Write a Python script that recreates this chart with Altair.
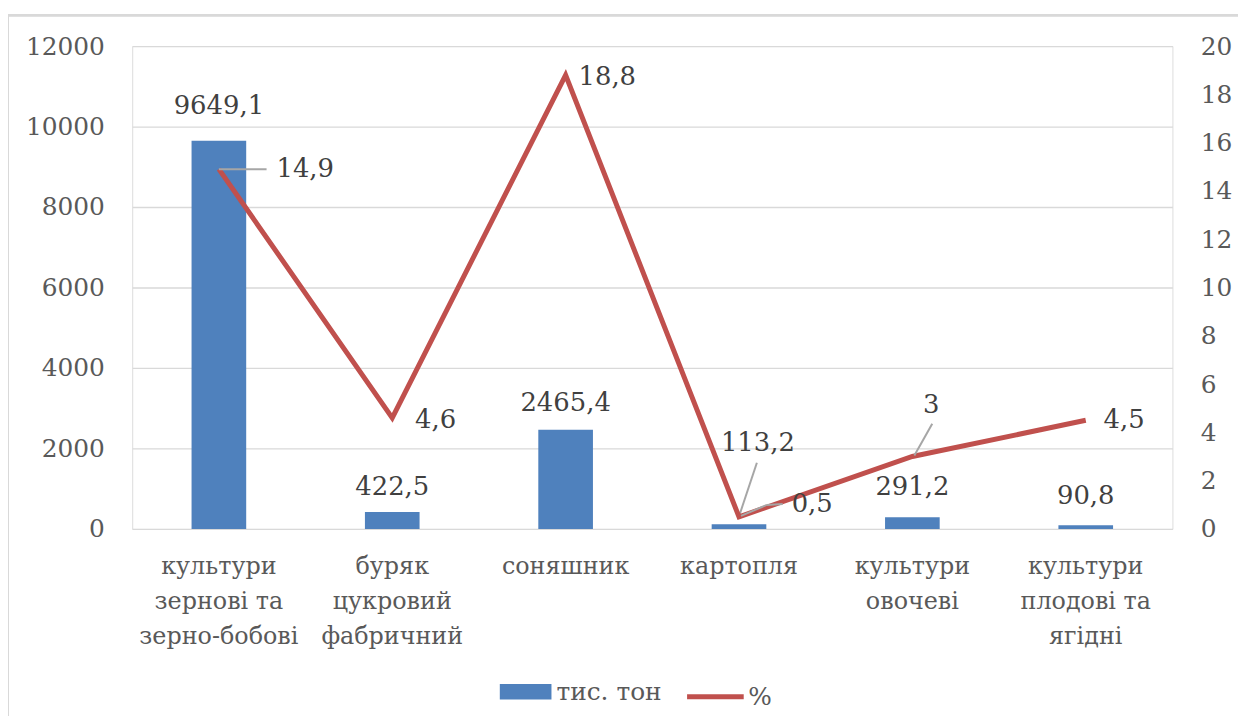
import altair as alt
import pandas as pd

categories = ["культури|зернові та|зерно-бобові", "буряк|цукровий|фабричний", "соняшник",
              "картопля", "культури|овочеві", "культури|плодові та|ягідні"]
tons = [9649.1, 422.5, 2465.4, 113.2, 291.2, 90.8]
pct = [14.9, 4.6, 18.8, 0.5, 3.0, 4.5]
tons_labels = ["9649,1", "422,5", "2465,4", "113,2", "291,2", "90,8"]
pct_labels = ["14,9", "4,6", "18,8", "0,5", "3", "4,5"]

df = pd.DataFrame({"cat": categories, "tons": tons, "pct": pct,
                   "tl": tons_labels, "pl": pct_labels,
                   "s1": ["тис. тон"] * 6, "s2": ["%"] * 6})

FONT = "DejaVu Serif"
W, H = 1047, 486
BLUE = "#4F81BD"
RED = "#C0504D"
LEAD = "#A6A6A6"
TXT = "#404040"

xenc = alt.X("cat:N", sort=categories, title=None,
             scale=alt.Scale(paddingInner=0, paddingOuter=0),
             axis=alt.Axis(labelExpr="split(datum.value, '|')", labelFontSize=24,
                           labelFont=FONT, labelColor="#595959", labelLineHeight=35,
                           labelPadding=26, domain=False, ticks=False, labelAngle=0,
                           labelBaseline="top"))
ytons = alt.Y("tons:Q", title=None,
              scale=alt.Scale(domain=[0, 12000], nice=False),
              axis=alt.Axis(values=list(range(0, 12001, 2000)), grid=True, gridColor="#D9D9D9",
                            gridWidth=1.3, domain=False, ticks=False, labelFontSize=25,
                            labelFont=FONT, labelColor="#595959", labelPadding=28, format="d"))
ypct = alt.Y("pct:Q", title=None,
             scale=alt.Scale(domain=[0, 20], nice=False),
             axis=alt.Axis(orient="right", values=list(range(0, 21, 2)), grid=False,
                           domain=False, ticks=False, labelFontSize=25, labelFont=FONT,
                           labelColor="#595959", labelPadding=28))

base = alt.Chart(df)

frame = base.mark_rect(fill=None, stroke="#D9D9D9", strokeWidth=2, clip=False).encode(
    x=alt.value(-125), x2=alt.value(W + 120), y=alt.value(-31), y2=alt.value(H + 300))

bars = base.mark_bar(width=55).encode(
    x=xenc, y=ytons,
    fill=alt.Fill("s1:N", scale=alt.Scale(range=[BLUE]),
                  legend=alt.Legend(title=None, orient="none", legendX=370, legendY=624,
                                    symbolType="M-1,-0.3H1V0.3H-1Z", symbolSize=2704,
                                    labelFont=FONT, labelFontSize=25, labelColor="#595959",
                                    symbolStrokeWidth=0, labelOffset=5)))

def bar_text(cat, dx, dy):
    return base.transform_filter(alt.datum.cat == cat).mark_text(
        font=FONT, fontSize=26, color=TXT, dx=dx, dy=dy).encode(
        x=alt.X("cat:N", sort=categories), y=alt.Y("tons:Q"), text="tl:N")

bt = [bar_text(categories[0], 0, -35), bar_text(categories[1], 0, -25),
      bar_text(categories[2], 0, -27), bar_text(categories[3], 19, -82),
      bar_text(categories[4], 0, -30), bar_text(categories[5], 0, -29)]

def leader(cat, field, xo, yo, x2o, y2o):
    return base.transform_filter(alt.datum.cat == cat).mark_rule(
        color=LEAD, strokeWidth=2, xOffset=xo, yOffset=yo, x2Offset=x2o, y2Offset=y2o).encode(
        x=alt.X("cat:N", sort=categories, bandPosition=0.5),
        x2=alt.X2("cat:N", bandPosition=0.5),
        y=alt.Y(f"{field}:Q"), y2=alt.Y2(f"{field}:Q"))

bar_layer = alt.layer(frame, bars, *bt, leader(categories[3], "tons", 0, -8, 18, -62))

line = base.mark_line(color=RED, strokeWidth=5, strokeJoin="miter").encode(
    x=alt.X("cat:N", sort=categories), y=ypct,
    stroke=alt.Stroke("s2:N", scale=alt.Scale(range=[RED]),
                      legend=alt.Legend(title=None, orient="none", legendX=556, legendY=624,
                                        symbolType="stroke", symbolSize=3249,
                                        symbolStrokeWidth=5, labelFont=FONT,
                                        labelFontSize=25, labelColor="#595959", labelOffset=2)))

def pct_text(cat, dx, dy):
    return base.transform_filter(alt.datum.cat == cat).mark_text(
        font=FONT, fontSize=26, color=TXT, dx=dx, dy=dy, align="left").encode(
        x=alt.X("cat:N", sort=categories), y=alt.Y("pct:Q"), text="pl:N")

pt = [pct_text(categories[0], 58, 0), pct_text(categories[1], 23, 2),
      pct_text(categories[2], 13, 2), pct_text(categories[3], 53, -13),
      base.transform_filter(alt.datum.cat == categories[4]).mark_text(
          font=FONT, fontSize=26, color=TXT, dx=19, dy=-52).encode(
          x=alt.X("cat:N", sort=categories), y=alt.Y("pct:Q"), text="pl:N"),
      pct_text(categories[5], 18, 0)]

line_layer = alt.layer(
    line, *pt,
    leader(categories[0], "pct", 0, 0, 48, 0),
    leader(categories[3], "pct", 2, -1, 28, -12),
    leader(categories[3], "pct", 28, -12, 44, -13),
    leader(categories[4], "pct", 2, -1, 20, -33),
)

chart = alt.layer(bar_layer, line_layer).resolve_scale(
    y="independent", fill="independent", stroke="independent").properties(
    width=W, height=H,
    autosize=alt.AutoSizeParams(type="none"),
    padding={"left": 125, "top": 36, "right": 66, "bottom": 186},
).configure_view(stroke=None).configure(background="white")

chart.save("out.html", embed_options={"renderer": "svg", "actions": False})
